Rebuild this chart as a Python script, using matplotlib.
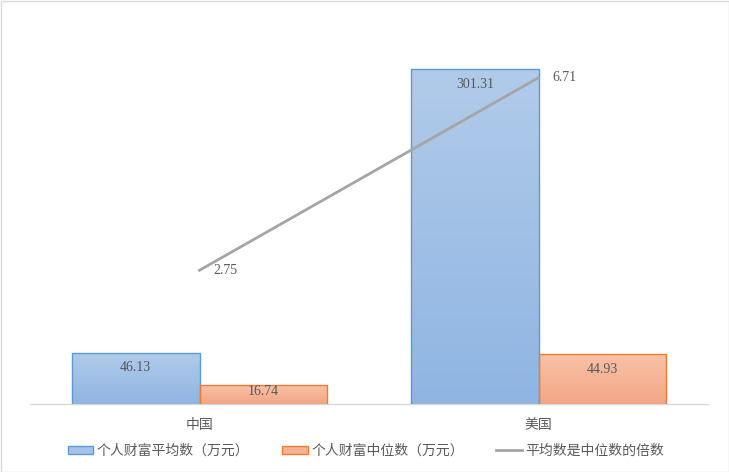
import matplotlib
matplotlib.use("Agg")
import matplotlib.pyplot as plt
import numpy as np
from matplotlib.patches import Rectangle
from matplotlib.colors import LinearSegmentedColormap
from matplotlib.lines import Line2D
from matplotlib.patches import Patch

plt.rcParams['font.family'] = ['Noto Sans CJK SC', 'DejaVu Sans']

categories = ['中国', '美国']
mean_wealth = [46.13, 301.31]
median_wealth = [16.74, 44.93]
ratio = [2.75, 6.71]
series_names = ['个人财富平均数（万元）', '个人财富中位数（万元）', '平均数是中位数的倍数']

W, H = 729, 472
fig = plt.figure(figsize=(W/100, H/100), dpi=100)
ax = fig.add_axes([30/W, 1-404/H, 678/W, 389/H])
ax2 = ax.twinx()

x = np.arange(len(categories))
bw = 0.376
txt_col = '#595959'

blue_cmap = LinearSegmentedColormap.from_list('b', ['#8FB5E2', '#B1CBEA'])
orange_cmap = LinearSegmentedColormap.from_list('o', ['#F3A686', '#F8C1A7'])

def grad_bars(xs, vals, cmap, edge):
    bars = ax.bar(xs, vals, width=bw, facecolor='none', edgecolor=edge, linewidth=1.0, zorder=3)
    for b in bars:
        x0, y0 = b.get_x(), b.get_y()
        w, h = b.get_width(), b.get_height()
        grad = np.linspace(0, 1, 256).reshape(-1, 1)
        im = ax.imshow(grad, cmap=cmap, aspect='auto', origin='lower',
                       extent=[x0, x0+w, y0, y0+h], zorder=2)
        im.set_clip_path(b)
    return bars

b1 = grad_bars(x - bw/2, mean_wealth, blue_cmap, '#5B9BD5')
b2 = grad_bars(x + bw/2, median_wealth, orange_cmap, '#ED7D31')

px_per_unit = 389 / 350.0
for xs, vals in ((x - bw/2, mean_wealth), (x + bw/2, median_wealth)):
    for xi, v in zip(xs, vals):
        hpx = v * px_per_unit
        off_px = 15 if hpx > 35 else 6
        ax.annotate(f'{v:.2f}', (xi, v), xytext=(0, -off_px * 0.72), textcoords='offset points',
                    ha='center', va='center', fontsize=10, color=txt_col,
                    family='Liberation Serif', zorder=5)

ax.set_xlim(-0.5, 1.5)
ax.set_ylim(0, 350)
ax.set_yticks([])
for s in ['top', 'right', 'left']:
    ax.spines[s].set_visible(False)
ax.spines['bottom'].set_color('#D9D9D9')
ax.spines['bottom'].set_linewidth(1.0)
ax.set_xticks(x)
ax.set_xticklabels(categories, fontsize=10, color=txt_col)
ax.tick_params(axis='x', length=0, pad=10)

ax2.plot(x, ratio, color='#A5A5A5', linewidth=2.0, zorder=4)
ax2.set_ylim(0, 8)
ax2.set_yticks([])
for s in ax2.spines.values():
    s.set_visible(False)
for xi, v in zip(x, ratio):
    ax2.annotate(f'{v:.2f}', (xi, v), xytext=(10, 0), textcoords='offset points',
                 ha='left', va='center', fontsize=10, color=txt_col,
                 family='Liberation Serif')

handles = [Patch(facecolor='#A5C2E7', edgecolor='#5B9BD5'),
           Patch(facecolor='#F5B396', edgecolor='#ED7D31'),
           Line2D([0], [0], color='#A5A5A5', linewidth=2)]
leg = fig.legend(handles, series_names, loc='center', bbox_to_anchor=(0.502, 1-451/H),
                 ncol=3, frameon=False, fontsize=10, labelcolor=txt_col,
                 handlelength=1.85, handleheight=0.55, handletextpad=0.25, columnspacing=2.35)

fig.patches.append(Rectangle((0.5/W, 0.5/H), 1-1/W, 1-1/H, transform=fig.transFigure,
                             fill=False, edgecolor='#D9D9D9', linewidth=1))

fig.savefig('out.png', dpi=100)
